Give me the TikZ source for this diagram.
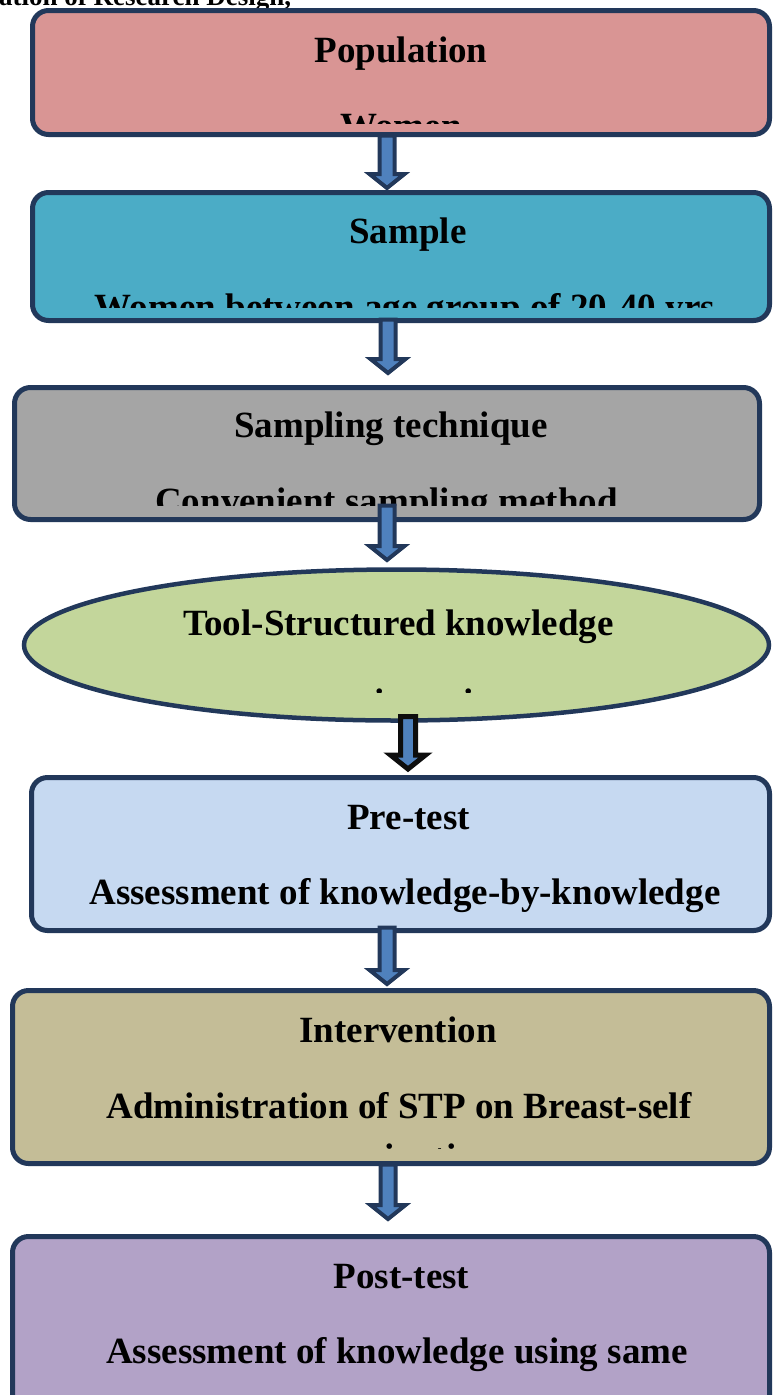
\documentclass[tikz,border=0pt]{standalone}
\usepackage{fontspec}
\setmainfont{Liberation Serif}
\usetikzlibrary{calc,shapes.geometric}

% palette
\definecolor{edge}{HTML}{22385A}
\definecolor{arrowblue}{HTML}{4F81BD}
\definecolor{popfill}{HTML}{D99594}
\definecolor{sampfill}{HTML}{4BACC6}
\definecolor{techfill}{HTML}{A5A5A5}
\definecolor{toolfill}{HTML}{C3D69B}
\definecolor{prefill}{HTML}{C6D9F1}
\definecolor{intvfill}{HTML}{C4BD97}
\definecolor{postfill}{HTML}{B2A2C7}
\definecolor{darkedge}{HTML}{0D0D0D}

\tikzset{
  box/.style={draw=edge, line width=5pt, rounded corners=16pt, inner sep=0pt, outer sep=0pt},
  oval/.style={ellipse, draw=edge, line width=4.5pt, inner sep=0pt, outer sep=0pt},
  lbl/.style={anchor=base, inner sep=0pt, font=\bfseries\fontsize{37}{44}\selectfont},
  caption/.style={anchor=base west, inner sep=0pt, font=\bfseries\fontsize{27}{32}\selectfont},
  flow/.style={draw=edge, fill=arrowblue, line width=4pt, line join=miter},
}

% block arrow from the top of its shaft (#2) down to its tip (#3)
\newcommand\blockarrow[3][]{%
  \draw[flow,#1] let \p1=(#2), \p2=(#3) in
    (\x1-7.5pt,\y1) -- (\x1-7.5pt,\y2+14pt) -- (\x1-17.5pt,\y2+14pt) -- (\x1,\y2)
    -- (\x1+17.5pt,\y2+14pt) -- (\x1+7.5pt,\y2+14pt) -- (\x1+7.5pt,\y1) -- cycle;}

\begin{document}
\begin{tikzpicture}[x=1pt,y=-1pt]
\clip (0,0) rectangle (772,1395);

% heading line
\node[caption] (cap) at (-1,5) {ation of Research Design,};

% stages
\node[box, fill=popfill,  minimum width=737, minimum height=124] (pop)  at (401,72.5) {};
\node[box, fill=sampfill, minimum width=737, minimum height=128] (samp) at (401,256.5) {};
\node[box, fill=techfill, minimum width=745, minimum height=132] (tech) at (387,453.5) {};
\node[oval, fill=toolfill, minimum width=745, minimum height=151] (tool) at (396.5,645) {};
\node[box, fill=prefill,  minimum width=738, minimum height=153] (pre)  at (400.5,854) {};
\node[box, fill=intvfill, minimum width=757, minimum height=173] (intv) at (391,1077) {};
\node[box, fill=postfill, minimum width=757, minimum height=187] (post) at (391,1330) {};

% headings and descriptions
\node[lbl] (popA) at (401,62) {Population};
\begin{scope}
  \clip (0,0) rectangle (772,123);
  \node[lbl] (popB) at (401,138) {Women};
\end{scope}

\node[lbl] (sampA) at (408,243.5) {Sample};
\begin{scope}
  \clip (0,200) rectangle (772,307);
  \node[lbl] (sampB) at (405,319.5) {Women between age group of 20-40 yrs};
\end{scope}

\node[lbl] (techA) at (391,437) {Sampling technique};
\begin{scope}
  \clip (0,400) rectangle (772,505);
  \node[lbl] (techB) at (386.5,513) {Convenient sampling method};
\end{scope}

\node[lbl] (toolA) at (398.5,635) {Tool-Structured knowledge};
\begin{scope}
  \clip (0,600) rectangle (772,692);
  \node[lbl] (toolB) at (398,714) {questionnaire};
\end{scope}

\node[lbl] (preA) at (408.5,829) {Pre-test};
\node[lbl] (preB) at (405,904) {Assessment of knowledge-by-knowledge};

\node[lbl] (intvA) at (398,1042) {Intervention};
\node[lbl] (intvB) at (399,1118) {Administration of STP on Breast-self};
\begin{scope}
  \clip (0,1125) rectangle (772,1148);
  \node[lbl] (intvC) at (398,1169) {examination};
\end{scope}

\node[lbl] (postA) at (401.5,1288) {Post-test};
\node[lbl] (postB) at (397,1363) {Assessment of knowledge using same};

% connectors
\blockarrow{$(pop.south)+(-14,1)$}{$(samp.north)+(-14,-4.5)$}
\blockarrow{$(samp.south)+(-13,-1)$}{$(tech.north)+(1,-14.5)$}
\blockarrow{$(tech.south)+(0,-14)$}{$(tool.north)+(-9.5,-9.5)$}
\blockarrow[draw=darkedge, line width=5pt]{$(tool.south)+(11.5,-4)$}{$(pre.north)+(7.5,-8.5)$}
\blockarrow{$(pre.south)+(-13.5,-3)$}{$(intv.north)+(-4,-6.5)$}
\blockarrow{$(intv.south)+(-3,1)$}{$(post.north)+(-3,-17.5)$}
\end{tikzpicture}
\end{document}
